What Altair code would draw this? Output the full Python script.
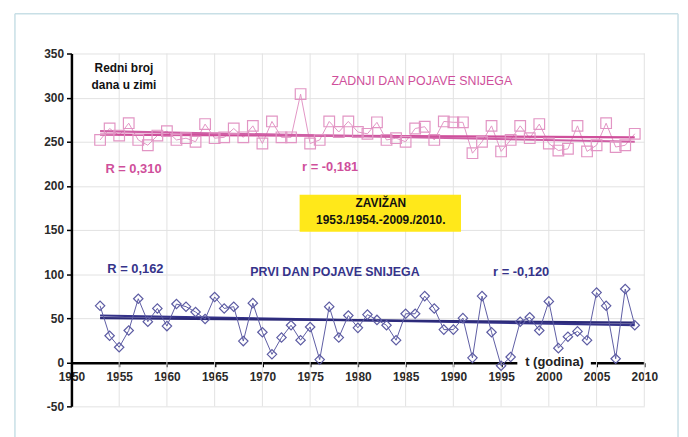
import altair as alt
import pandas as pd

years = list(range(1953, 2010))

# ZADNJI DAN POJAVE SNIJEGA (last day of snow), day index in winter
last_day = [252, 265, 257, 271, 252, 246, 257, 262, 252, 254,
            250, 270, 254, 255, 265, 255, 268, 248, 273, 255,
            255, 304, 248, 252, 273, 261, 273, 261, 259, 272,
            252, 254, 250, 265, 267, 252, 273, 272, 272, 237,
            250, 268, 239, 252, 268, 254, 270, 248, 240, 242,
            268, 239, 246, 271, 244, 246, 259]

# PRVI DAN POJAVE SNIJEGA (first day of snow)
first_day = [64, 30, 17, 36, 72, 46, 61, 41, 66, 63,
             57, 49, 74, 61, 63, 24, 67, 34, 9, 28,
             42, 25, 40, 3, 63, 28, 53, 39, 54, 48,
             42, 25, 55, 55, 75, 61, 37, 37, 50, 5,
             75, 34, -4, 6, 46, 51, 36, 69, 16, 29,
             35, 25, 79, 64, 4, 83, 42]

# trend lines (start / end values)
trend_years = [1953, 2009]
last_trend_a = [258, 255]
last_trend_b = [262, 250]
first_trend_a = [53, 42]
first_trend_b = [50, 45]

x_ticks = list(range(1950, 2011, 5))
y_ticks = list(range(-50, 351, 50))
grid_years = list(range(1955, 2011, 5))

PINK = "#cf4f9b"
PINK_LIGHT = "#e295c4"
NAVY = "#35338a"
NAVY_LIGHT = "#5d5ca3"
FONT = "Liberation Sans"

df_last = pd.DataFrame({"year": years, "value": last_day})
df_first = pd.DataFrame({"year": years, "value": first_day})
df_trend = pd.DataFrame({
    "year": trend_years * 4,
    "value": last_trend_a + last_trend_b + first_trend_a + first_trend_b,
    "line": ["la"] * 2 + ["lb"] * 2 + ["fa"] * 2 + ["fb"] * 2,
})

xscale = alt.Scale(domain=[1950, 2010], nice=False, zero=False)
yscale = alt.Scale(domain=[-50, 350], nice=False, zero=False)
xaxis = alt.Axis(values=x_ticks, format="d", title=None, grid=False, offset=-44,
                 domainColor="#000", domainWidth=2.5, tickColor="#000", tickWidth=1.5,
                 tickSize=4, labelFont=FONT, labelFontSize=12, labelColor="#2a2a2a",
                 labelFontWeight="bold", labelPadding=5, labelFlush=False)
yaxis = alt.Axis(values=y_ticks, title=None, grid=True, gridColor="#e2e2e2",
                 domainColor="#000", domainWidth=2.5, tickColor="#000", tickWidth=1.5,
                 tickSize=5, labelFont=FONT, labelFontSize=12, labelColor="#2a2a2a",
                 labelFontWeight="bold", labelPadding=3, labelExpr="'' + datum.value")


def X(f):
    return alt.X(f, type="quantitative", scale=xscale, axis=xaxis)


def Y(f):
    return alt.Y(f, type="quantitative", scale=yscale, axis=yaxis)


grid = alt.Chart(pd.DataFrame({"year": grid_years})).mark_rule(
    color="#e2e2e2", strokeWidth=1).encode(
    x=X("year"), y=alt.value(0), y2=alt.value(356))

# yellow box
box = alt.Chart(pd.DataFrame({"x": [1973.9], "x2": [1990.8], "y": [190], "y2": [148]})).mark_rect(
    color="#ffe81a").encode(x=X("x"), x2="x2", y=Y("y"), y2="y2")

last_line = alt.Chart(df_last).mark_line(color=PINK_LIGHT, strokeWidth=1).encode(x=X("year"), y=Y("value"))
last_pts = alt.Chart(df_last).mark_point(shape="square", filled=False, size=115,
                                         color=PINK_LIGHT, strokeWidth=1.2, opacity=1).encode(
    x=X("year"), y=Y("value"))
first_line = alt.Chart(df_first).mark_line(color=NAVY_LIGHT, strokeWidth=1).encode(x=X("year"), y=Y("value"))
first_pts = alt.Chart(df_first).mark_point(shape="diamond", filled=False, size=90,
                                           color=NAVY_LIGHT, strokeWidth=1.2, opacity=1).encode(
    x=X("year"), y=Y("value"))

trend = alt.Chart(df_trend).mark_line(strokeWidth=2.2).encode(
    x=X("year"), y=Y("value"), detail="line:N",
    color=alt.Color("line:N", scale=alt.Scale(domain=["la", "lb", "fa", "fb"],
                                              range=[PINK, "#cf5fa5", NAVY, "#2c2a78"]), legend=None))

# annotations
ann_text = ["Redni broj", "dana u zimi", "ZADNJI DAN POJAVE SNIJEGA", "R = 0,310", "r = -0,181",
            "ZAVIŽAN", "1953./1954.-2009./2010.", "R = 0,162", "PRVI DAN POJAVE SNIJEGA", "r = -0,120"]
ann_x = [1955.5, 1955.5, 1986.7, 1956.5, 1977.1, 1982.4, 1982.4, 1956.7, 1977.6, 1997.1]
ann_y = [333, 314, 319, 219, 221, 181, 161, 106, 102, 102]
ann_color = ["#111", "#111", PINK, PINK, PINK, "#111", "#111", NAVY, NAVY, NAVY]
ann_weight = ["bold", "bold", "normal", "bold", "bold", "bold", "bold", "bold", "bold", "bold"]
ann_size = [12, 12, 12.5, 13, 13, 12, 12, 13, 12.5, 13]
df_ann = pd.DataFrame({"t": ann_text, "x": ann_x, "y": ann_y, "c": ann_color,
                       "w": ann_weight, "s": ann_size})

texts = []
for i, r in df_ann.iterrows():
    texts.append(alt.Chart(df_ann.iloc[[i]]).mark_text(
        font=FONT, fontSize=r["s"], fontWeight=r["w"], color=r["c"], align="center",
        baseline="middle").encode(x=X("x"), y=Y("y"), text="t:N"))

# axis title on the x axis line
tlab_bg = alt.Chart(pd.DataFrame({"x": [1996.7], "x2": [2004.4], "y": [-6], "y2": [6]})).mark_rect(
    color="white").encode(x=X("x"), x2="x2", y=Y("y"), y2="y2")
tlab = alt.Chart(pd.DataFrame({"x": [2000.6], "y": [0], "t": ["t (godina)"]})).mark_text(
    font=FONT, fontSize=13, fontWeight="bold", color="#222", align="center", baseline="middle").encode(
    x=X("x"), y=Y("y"), text="t:N")

# figure frame
frame_left = alt.Chart(pd.DataFrame({"a": [0]})).mark_rule(color="#c8dfe6", strokeWidth=1.5).encode(
    x=alt.value(-57), y=alt.value(-40), y2=alt.value(390))
frame_top = alt.Chart(pd.DataFrame({"a": [0]})).mark_rule(color="#c8dfe6", strokeWidth=1.5).encode(
    x=alt.value(-57), x2=alt.value(612), y=alt.value(-40))
frame_right = alt.Chart(pd.DataFrame({"a": [0]})).mark_rule(color="#c8dfe6", strokeWidth=1.5).encode(
    x=alt.value(612), y=alt.value(-40), y2=alt.value(390))

chart = alt.layer(
    grid, box, last_line, trend, last_pts, first_line, first_pts,
    *texts, tlab_bg, tlab, frame_left, frame_top, frame_right
).properties(
    width=578, height=356,
    autosize=alt.AutoSizeParams(type="none"),
    padding={"left": 64, "top": 44, "right": 36, "bottom": 30},
    background="white",
).configure_view(stroke=None).resolve_scale(color="independent")

chart.save("out.html", embed_options={"renderer": "svg", "actions": False})
